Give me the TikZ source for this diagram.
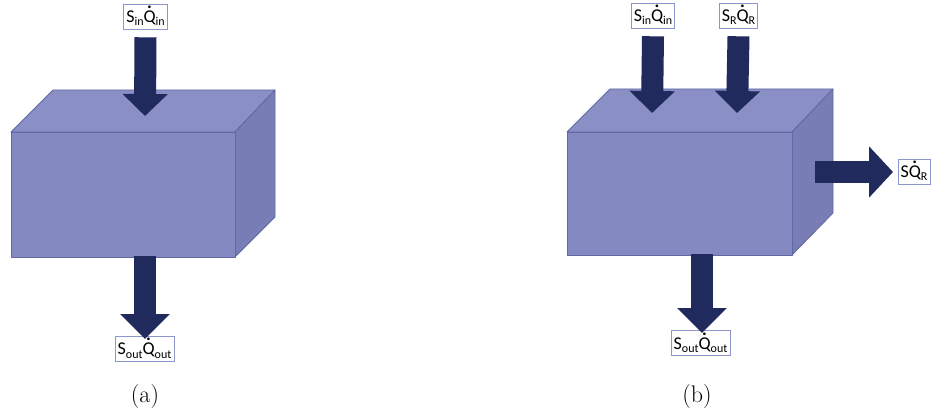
\documentclass[tikz,border=0pt]{standalone}
\usepackage{fontspec}
\newfontfamily\labfont{Carlito}
\usetikzlibrary{arrows.meta}
\definecolor{boxfront}{RGB}{131,137,193}
\definecolor{boxtop}{RGB}{138,143,198}
\definecolor{boxside}{RGB}{120,125,182}
\definecolor{boxedge}{RGB}{98,104,165}
\definecolor{arrowblue}{RGB}{33,42,92}
\definecolor{labedge}{RGB}{140,150,205}
\newcommand\Qdt{\leavevmode\hbox{\ooalign{Q\cr\hidewidth\smash{\raisebox{14pt}{\bfseries .}}\hidewidth\cr}}}
\newcommand\lowsub[1]{\raisebox{-3.5pt}{\fontsize{12}{12}\selectfont #1}}
\tikzset{
  face/.style={draw=boxedge, line width=0.8pt, line join=round},
  lab/.style={draw=labedge, line width=0.6pt, fill=white, inner xsep=2.5pt,
    inner ysep=1.5pt, text height=17pt, text depth=5pt,
    font=\labfont\fontsize{18}{20}\selectfont},
  bigarrow/.style={draw=arrowblue, line width=22pt,
    -{Triangle[width=44pt,length=22pt]}},
  captext/.style={font=\fontsize{24}{28}\selectfont}
}
\begin{document}
\begin{tikzpicture}[x=1pt,y=-1pt]
\useasboundingbox (0,0) rectangle (941,419);
% ---------- (a) ----------
\fill[boxtop,face] (11,132) -- (53,90) -- (275,90) -- (235,132) -- cycle;
\fill[boxside,face] (235,132) -- (275,90) -- (275,217) -- (235,257) -- cycle;
\fill[boxfront,face] (11,132) rectangle (235,257);
\node[lab] (lain) at (145.5,16.5) {S\lowsub{in}\Qdt\lowsub{in}};
\node[lab] (laout) at (144.5,348.5) {S\lowsub{out}\Qdt\lowsub{out}};
\coordinate (atop) at (145,116);
\coordinate (abot0) at (145,256);
\coordinate (abot) at (145,339);
\draw[bigarrow] ([yshift=-8pt]lain.south) -- (atop);
\draw[bigarrow,-{Triangle[width=48pt,length=25pt]}] (abot0) -- (abot);
\node[captext] (capa) at (145,397) {(a)};
% ---------- (b) ----------
\fill[boxtop,face] (567,132) -- (610,89) -- (833,89) -- (792,132) -- cycle;
\fill[boxside,face] (792,132) -- (833,89) -- (833,213) -- (792,255) -- cycle;
\fill[boxfront,face] (567,132) rectangle (792,255);
\node[lab] (lbin) at (653,15.5) {S\lowsub{in}\Qdt\lowsub{in}};
\node[lab] (lbR) at (738.5,15.5) {S\lowsub{R}\Qdt\lowsub{R}};
\node[lab] (lbSR) at (914,171.5) {S\Qdt\lowsub{R}};
\node[lab] (lbout) at (700.5,343) {S\lowsub{out}\Qdt\lowsub{out}};
\coordinate (btop1) at (652,113);
\coordinate (btop2) at (737,113);
\coordinate (bright0) at (815,172);
\coordinate (bright) at (893,172);
\coordinate (bbot0) at (702,254);
\coordinate (bbot) at (702,333);
\draw[bigarrow] ([yshift=-8pt]lbin.south) -- (btop1);
\draw[bigarrow] ([yshift=-8pt]lbR.south) -- (btop2);
\draw[bigarrow,-{Triangle[width=50pt,length=24pt]}] (bright0) -- (bright);
\draw[bigarrow,-{Triangle[width=48pt,length=25pt]}] (bbot0) -- (bbot);
\node[captext] (capb) at (697,397) {(b)};
\end{tikzpicture}
\end{document}
